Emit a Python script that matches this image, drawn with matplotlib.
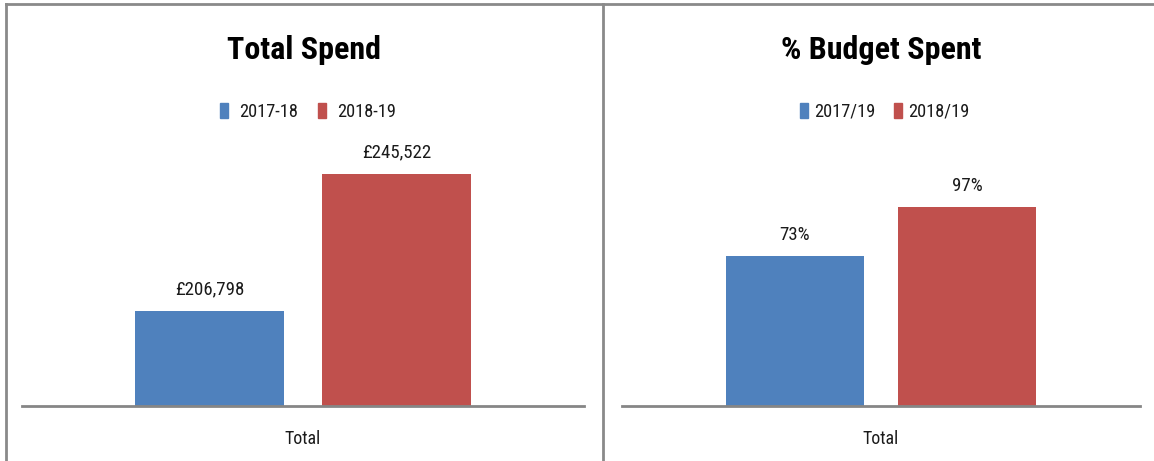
import matplotlib
matplotlib.use("Agg")
import matplotlib.pyplot as plt
from matplotlib.lines import Line2D
from matplotlib import font_manager

_names = {f.name for f in font_manager.fontManager.ttflist}
_condensed = [n for n in ["Liberation Sans Narrow", "Roboto Condensed",
                          "Open Sans Condensed", "Noto Sans Condensed"] if n in _names]
if _condensed:
    FAM = [_condensed[0], "DejaVu Sans"]
    K = 1.15
else:
    FAM = ["Roboto", "DejaVu Sans"]
    K = 1.0
plt.rcParams['font.family'] = FAM

# Data
category = ["Total"]
spend_series = ["2017-18", "2018-19"]
spend_values = [206798, 245522]
spend_labels = ["£206,798", "£245,522"]
pct_series = ["2017/19", "2018/19"]
pct_values = [0.73, 0.97]
pct_labels = ["73%", "97%"]

blue = "#4F81BD"
red = "#C0504D"
grey = "#868686"
txt = "#1a1a1a"

W, H = 1154, 461
fig = plt.figure(figsize=(W / 100, H / 100), dpi=100)

def fx(px):
    return px / W

def fy(py):
    return 1 - py / H

def make_panel(left, right, bottom, top, ylim, values, labels, series, title,
               cx, lcx, tpad, cspace):
    ax = fig.add_axes([fx(left), fy(bottom), fx(right - left), (bottom - top) / H])
    w = 0.266
    off = 0.166
    colors = [blue, red]
    for i, (v, lab, s) in enumerate(zip(values, labels, series)):
        x = -off if i == 0 else off
        ax.bar(x, v - ylim[0], bottom=ylim[0], width=w, color=colors[i], label=s)
        ax.annotate(lab, (x, v), xytext=(0, 9), textcoords="offset points",
                    ha="center", va="bottom", fontsize=11.8 * K, color=txt)
    ax.set_xlim(-0.5, 0.5)
    ax.set_ylim(*ylim)
    ax.set_yticks([])
    ax.set_xticks([0])
    ax.set_xticklabels(category, fontsize=11.2 * K, color=txt)
    ax.tick_params(axis="x", length=0, pad=17)
    for sp in ["top", "left", "right"]:
        ax.spines[sp].set_visible(False)
    ax.spines["bottom"].set_color(grey)
    ax.spines["bottom"].set_linewidth(2)
    ax.patch.set_alpha(0)
    fig.text(fx(cx), fy(50), title, ha="center", va="center",
             fontsize=20 * K, fontweight="bold", color="black")
    handles = [plt.Rectangle((0, 0), 1, 1, color=c) for c in colors]
    fig.legend(handles, series, loc="center", bbox_to_anchor=(fx(lcx), fy(112)),
               ncol=2, frameon=False, fontsize=11.5 * K, handlelength=0.42,
               handleheight=0.85, handletextpad=tpad, columnspacing=cspace,
               labelcolor=txt, borderaxespad=0, borderpad=0)
    return ax

# left panel: value axis starts at 180000 (truncated, as in the original)
make_panel(22, 584, 406, 123, (180000, 260000), spend_values, spend_labels,
           spend_series, "Total Spend", 304, 308, 0.6, 1.1)
# right panel
make_panel(622, 1140, 406, 160, (0, 1.2), pct_values, pct_labels,
           pct_series, "% Budget Spent", 881, 885, 0.35, 1.0)

# panel borders
bc = "#8a8a8a"
fig.add_artist(Line2D([fx(6), 1], [fy(4), fy(4)], color=bc, lw=2))
fig.add_artist(Line2D([fx(6), fx(6)], [fy(4), 0], color=bc, lw=2))
fig.add_artist(Line2D([fx(603), fx(603)], [fy(4), 0], color=bc, lw=2))

fig.savefig("out.png", dpi=100)
